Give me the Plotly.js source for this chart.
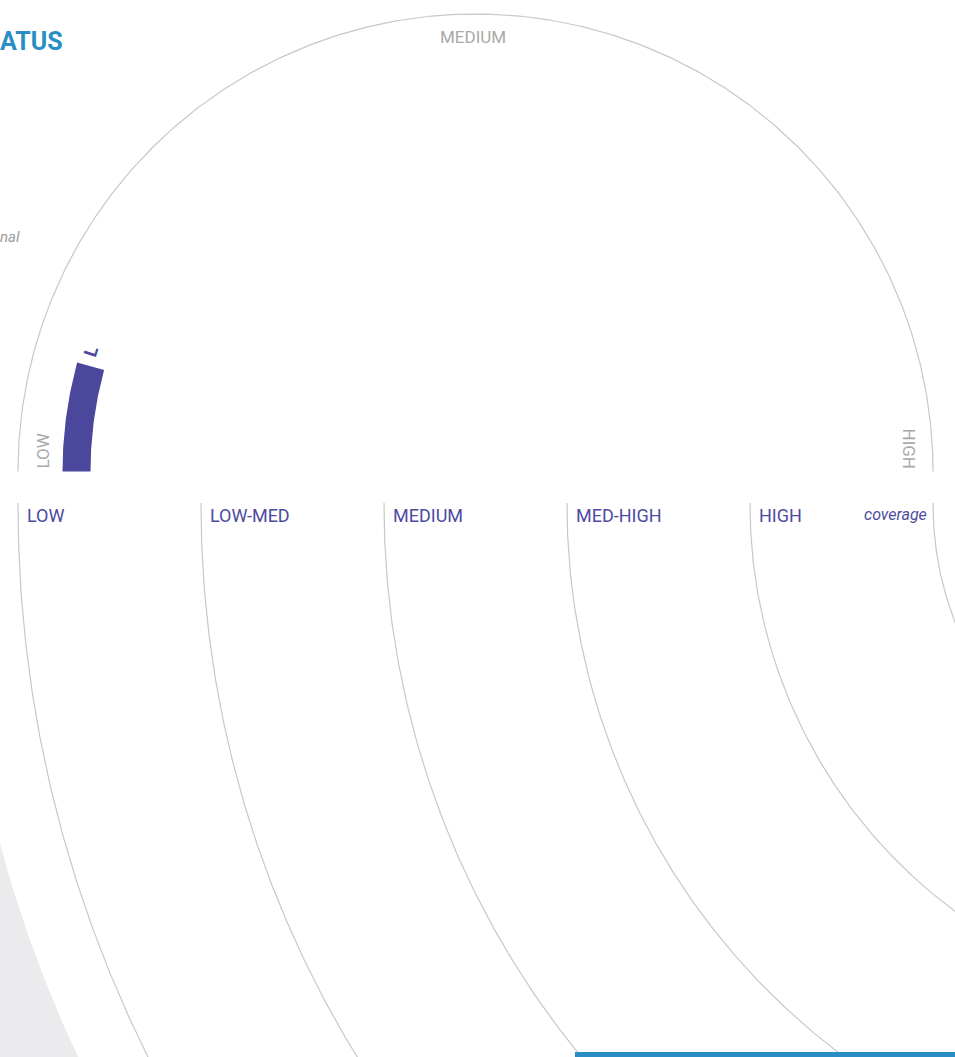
<!DOCTYPE html>
<html>
<head>
<meta charset="utf-8">
<script src="https://cdn.plot.ly/plotly-3.0.1.min.js"></script>
<style>
  html, body { margin: 0; padding: 0; background: #ffffff; overflow: hidden; }
  #chart { width: 955px; height: 1057px; }
</style>
</head>
<body>
<div id="chart"></div>
<script>
// ---- data ----
const titleFragment = 'ATUS';
const noteFragment = 'nal';
const gaugeTickLabels = ['LOW', 'MEDIUM', 'HIGH'];
const gaugeTickValues = [0, 50, 100];
const gaugeValue = 8.5;            // position of the bar on a 0-100 LOW..HIGH scale
const gaugeValueLabel = 'L';
const coverageLabels = ['LOW', 'LOW-MED', 'MEDIUM', 'MED-HIGH', 'HIGH'];
const coverageAxisLabel = 'coverage';

// ---- layout geometry (pixels) ----
const W = 955, H = 1057;
const gauge = { cx: 475.5, cy: 471.5, r: 457.5, barIn: 385, barOut: 413 };
const lower = { cx: 1255, cy: 505, x0: 18, step: 183, band: 1300, top: 503 };
const gridColor = '#c8c8c8';
const purple = '#4a479c';
const purpleText = '#4d4ba1';
const greyText = '#a9a9a9';
const blue = '#2a8ec6';

function valueToAngle(v) { return v / 100 * 180; } // degrees from the left end, clockwise over the top

function arc(cx, cy, r, a0, a1, n) {
  const xs = [], ys = [];
  for (let i = 0; i <= n; i++) {
    const a = (a0 + (a1 - a0) * i / n) * Math.PI / 180;
    xs.push(cx - r * Math.cos(a));
    ys.push(cy - r * Math.sin(a));
  }
  return { xs, ys };
}

function lowerArc(r, n) {
  const xs = [], ys = [];
  for (let i = 0; i <= n; i++) {
    const t = (i / n) * (Math.PI / 2);
    xs.push(lower.cx - r * Math.cos(t));
    ys.push(lower.cy + r * Math.sin(t));
  }
  return { xs, ys };
}

const traces = [];

// gray band in the lower chart (outside the outermost ring)
{
  const a = lowerArc(lower.band, 200);
  const xs = a.xs.concat([-400, -400]);
  const ys = a.ys.concat([H + 400, lower.cy]);
  traces.push({ type: 'scatter', mode: 'lines', x: xs, y: ys, fill: 'toself',
    fillcolor: '#ebebed', line: { width: 0 }, hoverinfo: 'skip' });
}

// gauge outline (upper semicircle)
{
  const a = arc(gauge.cx, gauge.cy, gauge.r, 0, 180, 360);
  traces.push({ type: 'scatter', mode: 'lines', x: a.xs, y: a.ys,
    line: { color: gridColor, width: 1.2 }, hoverinfo: 'skip' });
}

// gauge bar
{
  const end = valueToAngle(gaugeValue);
  const outer = arc(gauge.cx, gauge.cy, gauge.barOut, 0, end, 60);
  const inner = arc(gauge.cx, gauge.cy, gauge.barIn, end, 0, 60);
  traces.push({ type: 'scatter', mode: 'lines', x: outer.xs.concat(inner.xs),
    y: outer.ys.concat(inner.ys), fill: 'toself', fillcolor: purple,
    line: { width: 0 }, hoverinfo: 'skip' });
}

// lower chart rings (category boundaries)
const boundaries = [];
for (let i = 0; i <= coverageLabels.length; i++) boundaries.push(lower.x0 + i * lower.step);
boundaries.forEach(bx => {
  const a = lowerArc(lower.cx - bx, 400);
  traces.push({ type: 'scatter', mode: 'lines', x: [bx].concat(a.xs), y: [lower.top].concat(a.ys),
    line: { color: gridColor, width: 1.2 }, hoverinfo: 'skip' });
});

// ---- annotations ----
const ann = [];
ann.push({ text: titleFragment, x: 0, xshift: -2, y: 41, xanchor: 'left', yanchor: 'middle',
  font: { family: 'Roboto', size: 25, color: blue, weight: 'bold' } });
ann.push({ text: '<i>' + noteFragment + '</i>', x: 0, xshift: -2, y: 237, xanchor: 'left', yanchor: 'middle',
  font: { family: 'Roboto', size: 15, color: '#9a9a9a' } });

// gauge tick labels, placed just inside the outline and tangent to it
gaugeTickLabels.forEach((lab, i) => {
  const ang = valueToAngle(gaugeTickValues[i]);
  const rr = gauge.r - 24;
  const a = ang * Math.PI / 180;
  let x = gauge.cx - rr * Math.cos(a);
  let y = gauge.cy - rr * Math.sin(a);
  const rot = ang - 90;
  if (ang === 0) { y -= 20; }
  if (ang === 180) { y -= 23; }
  if (ang === 90) { x -= 3; y -= 1; }
  ann.push({ text: lab, x: x, y: y, xanchor: 'center', yanchor: 'middle', textangle: rot,
    font: { family: 'Roboto', size: 17, color: greyText } });
});

// gauge value label
{
  const ang = valueToAngle(gaugeValue) + 2.0;
  const rr = (gauge.barIn + gauge.barOut) / 2 + 4;
  const a = ang * Math.PI / 180;
  ann.push({ text: '<b>' + gaugeValueLabel + '</b>', x: gauge.cx - rr * Math.cos(a),
    y: gauge.cy - rr * Math.sin(a), xanchor: 'center', yanchor: 'middle', textangle: ang - 90,
    font: { family: 'Roboto', size: 18, color: purple } });
}

// lower chart category labels
coverageLabels.forEach((lab, i) => {
  ann.push({ text: lab, x: boundaries[i] + 7, y: 515, xanchor: 'left', yanchor: 'middle',
    font: { family: 'Roboto', size: 18, color: purpleText } });
});
ann.push({ text: '<i>' + coverageAxisLabel + '</i>', x: boundaries[boundaries.length - 1] - 4, y: 514,
  xanchor: 'right', yanchor: 'middle', font: { family: 'Roboto', size: 16, color: purpleText } });

ann.forEach(a => { a.xref = 'x'; a.yref = 'y'; a.showarrow = false; });

const layout = {
  width: W, height: H,
  margin: { l: 0, r: 0, t: 0, b: 0, pad: 0 },
  paper_bgcolor: '#ffffff', plot_bgcolor: '#ffffff',
  showlegend: false,
  xaxis: { range: [0, W], visible: false, fixedrange: true },
  yaxis: { range: [H, 0], visible: false, fixedrange: true },
  annotations: ann,
  shapes: [
    { type: 'rect', xref: 'x', yref: 'y', x0: 575, x1: W, y0: 1052, y1: H + 5,
      fillcolor: blue, line: { width: 0 }, layer: 'above' }
  ]
};

Plotly.newPlot('chart', traces, layout, { staticPlot: true, displayModeBar: false });
</script>
</body>
</html>
